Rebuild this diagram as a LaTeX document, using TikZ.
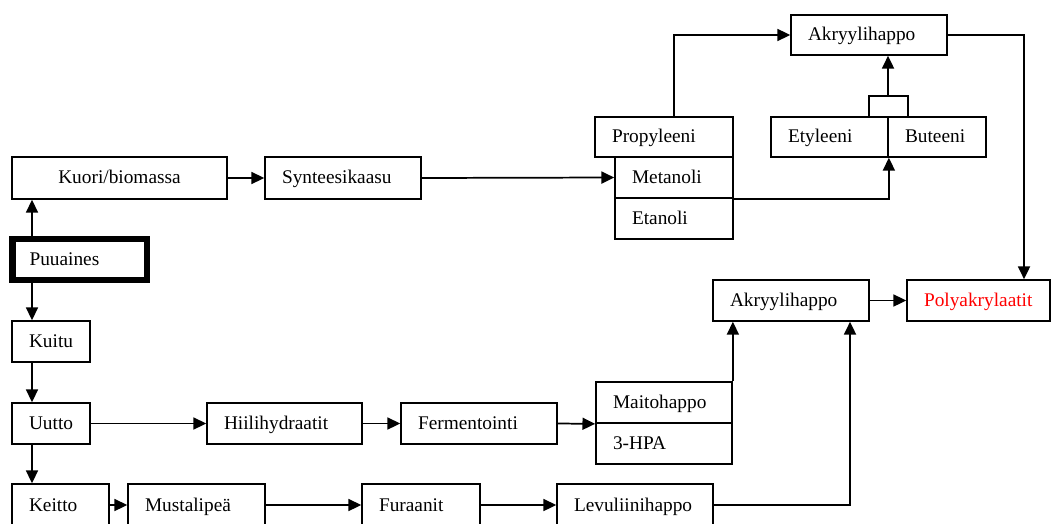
\documentclass[tikz,border=0pt]{standalone}
\usepackage{fontspec}
\setmainfont{Liberation Serif}
\usetikzlibrary{arrows.meta}

% A process stage given by its corner positions; text is set flush left
% (#1 extra options, #2 name, #3/#4 top-left corner, #5/#6 bottom-right corner, #7 text)
\newcommand\stagebox[7][]{%
  \pgfmathsetmacro\stgw{(#5-#3)*0.75}%
  \pgfmathsetmacro\stgh{(#6-#4)*0.75}%
  \pgfmathsetmacro\stgt{\stgw-25.5}%
  \node[stage,minimum width=\stgw pt,minimum height=\stgh pt,text width=\stgt pt,#1]
    (#2) at ({(#3+#5)/2},{(#4+#6)/2}) {#7};}

\tikzset{
  stage/.style={draw=black,line width=1.3pt,rectangle,inner xsep=12.75pt,inner ysep=2pt,
    align=left,text height=11.5pt,text depth=2.5pt,font=\fontsize{14.5pt}{17pt}\selectfont},
  flow/.style={draw=black,line width=1.3pt,-{Triangle[length=9.5pt,width=9pt]}},
  link/.style={draw=black,line width=1.3pt},
}

\begin{document}
\begin{tikzpicture}[x=0.75pt,y=-0.75pt]
\useasboundingbox (0,0) rectangle (1052,524);
\clip (0,0) rectangle (1052,524);
\fill[white] (0,0) rectangle (1052,524);

% left column
\stagebox[align=center]{kuori}{12}{157}{227}{199}{Kuori/biomassa}
\stagebox[line width=4.7pt]{puu}{12.5}{239}{147}{280}{Puuaines}
\stagebox{kuitu}{12}{321}{90}{362}{Kuitu}
\stagebox{uutto}{12}{403}{90}{444}{Uutto}
\stagebox{keitto}{12}{484}{109}{526}{Keitto}

% gasification route
\stagebox{synt}{265}{157}{421}{199}{Synteesikaasu}
\stagebox{prop}{595}{117}{733}{157}{Propyleeni}
\stagebox{met}{615}{157}{733}{198}{Metanoli}
\stagebox{etan}{615}{198}{733}{239}{Etanoli}
\stagebox{ety}{771}{117}{888}{157}{Etyleeni}
\stagebox{but}{888}{117}{986}{157}{Buteeni}
\stagebox{akrA}{791}{15}{947}{55}{Akryylihappo}

% sugar route
\stagebox{hiili}{207}{403}{362}{444}{Hiilihydraatit}
\stagebox{ferm}{401}{403}{557}{444}{Fermentointi}
\stagebox{maito}{596}{382}{732}{423}{Maitohappo}
\stagebox{hpa}{596}{423}{732}{464}{3-HPA}

% black liquor route
\stagebox{must}{128}{484}{265}{526}{Mustalipeä}
\stagebox{fur}{362}{484}{480}{526}{Furaanit}
\stagebox{lev}{557}{484}{713}{526}{Levuliinihappo}

% products
\stagebox{akrB}{713}{280}{869}{321}{Akryylihappo}
\stagebox[text=red]{poly}{907}{280}{1050}{321}{Polyakrylaatit}

% helper points for the bent connectors
\coordinate (spine) at (32,0);
\coordinate (brk) at (888,96);
\coordinate (brkL) at (869,117);
\coordinate (brkR) at (908,117);
\coordinate (dropx) at (1024,0);
\coordinate (levx) at (850,0);

% trunk from Puuaines
\draw[flow] (spine |- puu.north) -- (spine |- kuori.south);
\draw[flow] (spine |- puu.south) -- (spine |- kuitu.north);
\draw[flow] (spine |- kuitu.south) -- (spine |- uutto.north);
\draw[flow] (spine |- uutto.south) -- (spine |- keitto.north);

% gasification connectors
\draw[flow] (kuori.east) -- (synt.west);
\draw[flow] (synt.east) -- (met.west);
\draw[flow] ([xshift=7.5pt]prop.north) |- (akrA.west);
\draw[flow] (met.south east) -| (ety.south east);
\draw[link] (brkL) |- (brk) -| (brkR);
\draw[flow] (brk) -- (brk |- akrA.south);
\draw[flow] (akrA.east) -| (dropx |- poly.north);

% sugar connectors
\draw[flow] (uutto.east) -- (hiili.west);
\draw[flow] (hiili.east) -- (ferm.west);
\draw[flow] (ferm.east) -- (maito.south west);
\draw[flow] (maito.north east) -- (maito.north east |- akrB.south);

% black liquor connectors
\draw[flow] (keitto.east) -- (must.west);
\draw[flow] (must.east) -- (fur.west);
\draw[flow] (fur.east) -- (lev.west);
\draw[flow] (lev.east) -| (levx |- akrB.south);

\draw[flow] (akrB.east) -- (poly.west);
\end{tikzpicture}
\end{document}
